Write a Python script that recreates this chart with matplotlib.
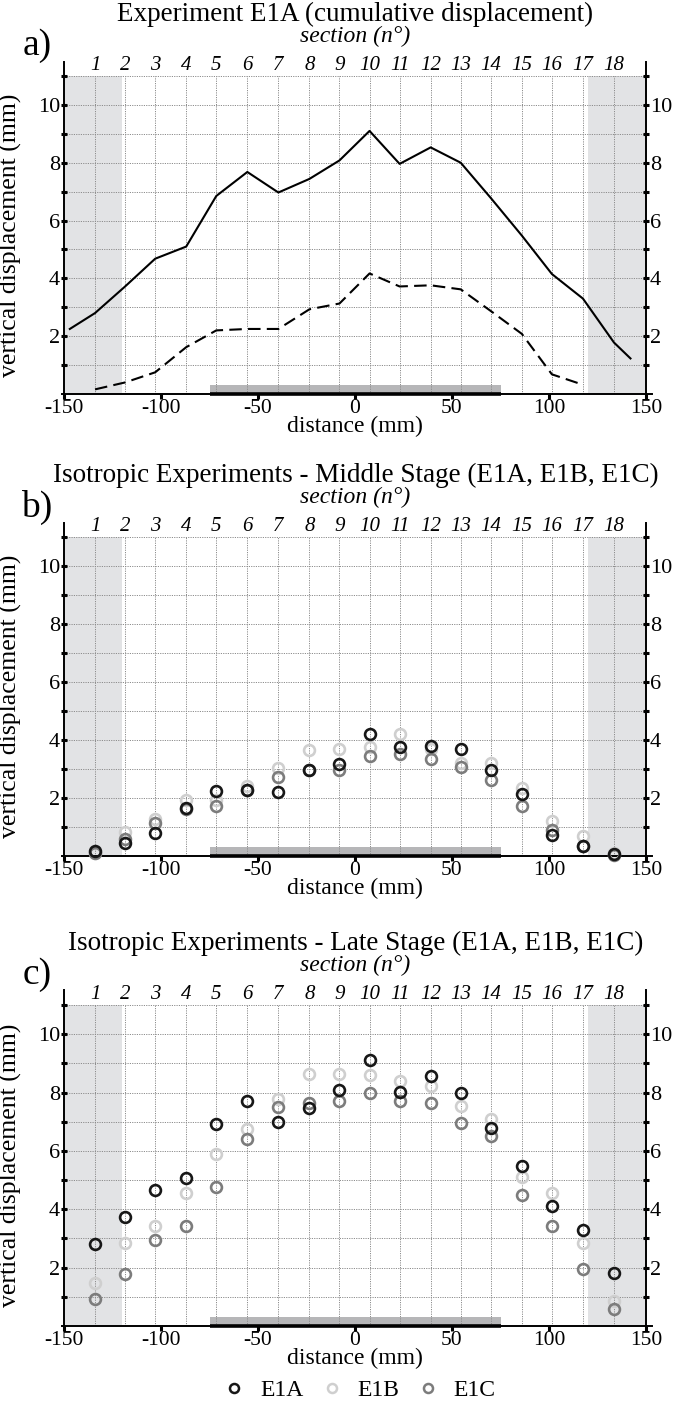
import matplotlib
matplotlib.use("Agg")
import matplotlib.pyplot as plt
from matplotlib.lines import Line2D
from matplotlib.patches import Rectangle

plt.rcParams["font.family"] = ["Liberation Serif", "DejaVu Serif"]
plt.rcParams["axes.unicode_minus"] = False

# ---------------------------------------------------------------- data
section_numbers = list(range(1, 19))
section_x = [-134, -118.5, -103, -87, -71.5, -55.5, -39.5, -23.5, -8, 7.5,
             23, 39, 54.5, 70, 86, 101.5, 117.5, 133.5]

# panel a: cumulative profile (solid) and middle-stage profile (dashed)
cumulative_x = [-147] + section_x + [142]
cumulative_y = [2.25, 2.8, 3.72, 4.68, 5.1, 6.85, 7.68, 6.97, 7.44, 8.08, 9.1,
                7.96, 8.53, 8.0, 6.78, 5.48, 4.15, 3.3, 1.78, 1.23]
middle_profile_x = section_x[:17]
middle_profile_y = [0.16, 0.4, 0.75, 1.62, 2.2, 2.25, 2.25, 2.93, 3.13, 4.17,
                    3.72, 3.76, 3.62, 2.87, 2.08, 0.68, 0.32]

# panel b: middle stage
mid_e1a = [0.18, 0.44, 0.79, 1.65, 2.23, 2.29, 2.21, 2.95, 3.18, 4.21, 3.76,
           3.8, 3.7, 2.98, 2.14, 0.74, 0.33, 0.06]
mid_e1b = [0.1, 0.84, 1.27, 1.93, 1.94, 2.4, 3.05, 3.67, 3.7, 3.77, 4.2, 3.7,
           3.2, 3.22, 2.36, 1.2, 0.69, 0.1]
mid_e1c = [0.12, 0.58, 1.13, 1.62, 1.72, 2.29, 2.74, 2.98, 2.98, 3.46, 3.53,
           3.35, 3.07, 2.62, 1.74, 0.88, 0.36, 0.03]

# panel c: late stage
late_e1a = [2.81, 3.73, 4.65, 5.06, 6.91, 7.72, 6.98, 7.46, 8.08, 9.13, 8.02,
            8.56, 7.99, 6.8, 5.48, 4.11, 3.29, 1.83]
late_e1b = [1.48, 2.83, 3.42, 4.57, 5.91, 6.76, 7.79, 8.65, 8.65, 8.6, 8.39,
            8.23, 7.53, 7.08, 5.09, 4.57, 2.85, 0.86]
late_e1c = [0.92, 1.79, 2.95, 3.42, 4.77, 6.42, 7.49, 7.63, 7.71, 7.99, 7.71,
            7.65, 6.94, 6.51, 4.49, 3.42, 1.97, 0.57]

x_ticks = [-150, -100, -50, 0, 50, 100, 150]
y_major = [2, 4, 6, 8, 10]
y_minor = [1, 3, 5, 7, 9, 11]
shade_left = (-150, -120)
shade_right = (120, 150)
base_bar = (-75, 75, 0.32)

titles = ["Experiment E1A (cumulative displacement)",
          "Isotropic Experiments - Middle Stage (E1A, E1B, E1C)",
          "Isotropic Experiments - Late Stage (E1A, E1B, E1C)"]
panel_letters = ["a)", "b)", "c)"]
series_names = ["E1A", "E1B", "E1C"]
series_colors = {"E1A": "#171717", "E1B": "#cfcfcf", "E1C": "#7c7c7c"}
series_z = {"E1A": 6, "E1B": 4, "E1C": 5}

# ---------------------------------------------------------------- layout
W, H = 684, 1404
fig = plt.figure(figsize=(W / 100, H / 100), dpi=100)

left_px, right_px = 64, 646
panel_px = [(76, 394), (537, 856), (1005, 1326)]

grid_kw = dict(color="#8c8c8c", linestyle=(0, (1.2, 1.2)), linewidth=0.7)


def make_panel(top, bottom, title, letter):
    ax = fig.add_axes([left_px / W, 1 - bottom / H,
                       (right_px - left_px) / W, (bottom - top) / H])
    ax.set_xlim(-150, 150)
    ax.set_ylim(0, 11)

    ax.axvspan(*shade_left, color="#e2e3e5", zorder=0, lw=0)
    ax.axvspan(*shade_right, color="#e2e3e5", zorder=0, lw=0)
    ax.add_patch(Rectangle((base_bar[0], 0), base_bar[1] - base_bar[0],
                           base_bar[2], facecolor="#b6b6b8", edgecolor="none",
                           zorder=1))

    ax.set_xticks(x_ticks)
    ax.set_xticks(section_x, minor=True)
    ax.set_yticks(y_major)
    ax.set_yticks(y_minor, minor=True)
    ax.grid(True, which="minor", axis="x", **grid_kw)
    ax.grid(True, which="both", axis="y", **grid_kw)
    for gl in ax.get_xgridlines() + ax.get_ygridlines():
        gl.set_zorder(2)

    ax.tick_params(axis="x", which="major", direction="out", length=3.5,
                   width=2.2, labelsize=15.5, pad=0.2, color="black")
    ax.tick_params(axis="x", which="minor", length=0)
    ax.tick_params(axis="y", which="both", direction="inout", length=4.5,
                   width=2.2, left=True, right=True, labelleft=True,
                   labelright=True, labelsize=16, pad=0.5)
    ax.set_xticklabels([str(v) for v in x_ticks])

    ax.spines["top"].set_visible(False)
    for side in ("left", "right"):
        ax.spines[side].set_linewidth(1.4)
        ax.spines[side].set_bounds(0, 11.5)
    ax.spines["bottom"].set_linewidth(1.4)
    ax.spines["bottom"].set_bounds(-151, 153)
    ax.plot([base_bar[0], base_bar[1]], [0, 0], color="black", lw=2.6,
            solid_capstyle="butt", zorder=3, clip_on=False)

    top_ax = ax.secondary_xaxis("top")
    top_ax.set_xticks(section_x, labels=[str(n) for n in section_numbers])
    top_ax.tick_params(length=0, pad=1, labelsize=15)
    for lab in top_ax.get_xticklabels():
        lab.set_fontstyle("italic")
    top_ax.spines["top"].set_visible(False)

    ax.set_xlabel("distance (mm)", fontsize=17, va="center")
    ax.xaxis.set_label_coords(0.5, -32 / (bottom - top))
    ax.set_ylabel("vertical displacement (mm)", fontsize=18.5)
    ax.yaxis.set_label_coords(-0.072, 0.5)

    fig.text(355.5 / W, 1 - (top - 62) / H, title, fontsize=19.5,
             ha="center", va="center")
    fig.text(355.5 / W, 1 - (top - 40) / H, "section (n°)", fontsize=17,
             fontstyle="italic", ha="center", va="center")
    fig.text(37 / W, 1 - (top - 30) / H, letter, fontsize=27,
             ha="center", va="center")
    return ax


axes = [make_panel(t, b, ttl, let)
        for (t, b), ttl, let in zip(panel_px, titles, panel_letters)]

# panel a: profiles
ax_a = axes[0]
ax_a.plot(cumulative_x, cumulative_y, color="black", lw=1.5, zorder=5)
ax_a.plot(middle_profile_x, middle_profile_y, color="black", lw=1.5,
          dashes=(6, 3), zorder=5)

marker_kw = dict(marker="o", linestyle="none", markersize=7.8,
                 markerfacecolor="none", markeredgewidth=1.9, clip_on=False)

stage_data = [
    {"E1A": mid_e1a, "E1B": mid_e1b, "E1C": mid_e1c},
    {"E1A": late_e1a, "E1B": late_e1b, "E1C": late_e1c},
]
for ax, data in zip(axes[1:], stage_data):
    for name in series_names:
        ax.plot(section_x, data[name], color=series_colors[name],
                zorder=series_z[name], **marker_kw)

handles = [Line2D([], [], marker="o", linestyle="none", markersize=6.5,
                  markerfacecolor="none", markeredgewidth=1.8,
                  color=series_colors[n]) for n in series_names]
fig.legend(handles, series_names, loc="center", ncol=3, frameon=False,
           fontsize=17, bbox_to_anchor=(359 / W, 1 - 1390 / H),
           handletextpad=0.6, columnspacing=0.7, handlelength=1.0)

fig.savefig("out.png", dpi=100)
